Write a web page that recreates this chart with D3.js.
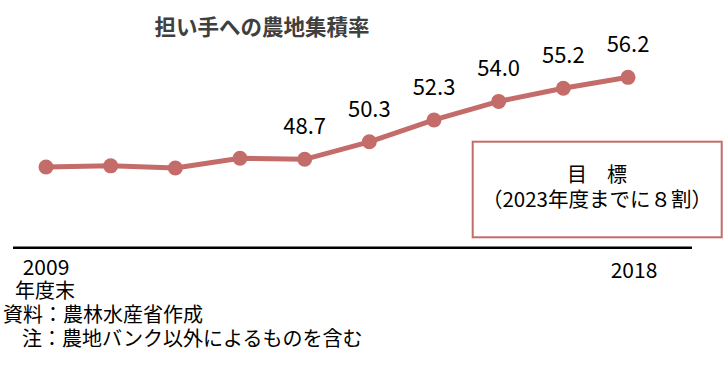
<!DOCTYPE html>
<html>
<head>
<meta charset="utf-8">
<script src="https://cdn.jsdelivr.net/npm/d3@7"></script>
<style>
  body { margin: 0; background: #fff; }
  svg { display: block; font-family: "Noto Sans CJK JP", sans-serif; }
</style>
</head>
<body>
<div class="board"></div>
<script>
// data
var years = [2009, 2010, 2011, 2012, 2013, 2014, 2015, 2016, 2017, 2018];
var rates = [48.0, 48.1, 47.9, 48.8, 48.7, 50.3, 52.3, 54.0, 55.2, 56.2];
var shownLabels = ["", "", "", "", "48.7", "50.3", "52.3", "54.0", "55.2", "56.2"];
var tickYears = [2009, 2018];

var lineColor = '#c46c69';

var svg = d3.select('.board').append('svg')
  .attr('width', 728)
  .attr('height', 370);

var x = d3.scalePoint()
  .domain(years)
  .range([46, 628]);

var y = d3.scaleLinear()
  .domain([40, 60])
  .range([254.4, 35.8]);

// title
svg.append('text')
  .attr('x', 262)
  .attr('y', 35)
  .attr('text-anchor', 'middle')
  .style('font-size', '21.5px')
  .style('font-weight', 'bold')
  .style('fill', '#3f3f3f')
  .text('担い手への農地集積率');

// baseline
svg.append('line')
  .attr('x1', 13).attr('x2', 692)
  .attr('y1', 247.7).attr('y2', 247.7)
  .style('stroke', '#000')
  .style('stroke-width', 2.5);

// target box
var box = svg.append('g');
box.append('rect')
  .attr('x', 472.7).attr('y', 141.7)
  .attr('width', 249).attr('height', 95.6)
  .style('fill', '#fff')
  .style('stroke', lineColor)
  .style('stroke-width', 2);
box.append('text')
  .attr('x', 597).attr('y', 182)
  .attr('text-anchor', 'middle')
  .style('font-size', '20px')
  .text('目　標');
box.append('text')
  .attr('x', 597).attr('y', 207)
  .attr('text-anchor', 'middle')
  .style('font-size', '20.5px')
  .text('（2023年度までに８割）');

// line
var line = d3.line()
  .x(function (d, i) { return x(years[i]); })
  .y(function (d) { return y(d); });

svg.append('path')
  .datum(rates)
  .attr('d', line)
  .style('fill', 'none')
  .style('stroke', lineColor)
  .style('stroke-width', 5);

svg.selectAll('circle.pt')
  .data(rates)
  .enter()
  .append('circle')
  .classed('pt', true)
  .attr('cx', function (d, i) { return x(years[i]); })
  .attr('cy', function (d) { return y(d); })
  .attr('r', 7.5)
  .style('fill', lineColor);

svg.selectAll('text.val')
  .data(rates)
  .enter()
  .append('text')
  .classed('val', true)
  .attr('x', function (d, i) { return x(years[i]); })
  .attr('y', function (d) { return y(d) - 25; })
  .attr('text-anchor', 'middle')
  .style('font-size', '22px')
  .style('fill', '#000')
  .text(function (d, i) { return shownLabels[i]; });

// year ticks
svg.selectAll('text.tick')
  .data(tickYears)
  .enter()
  .append('text')
  .classed('tick', true)
  .attr('x', function (d) { return x(d) + (d === 2018 ? 6 : 0); })
  .attr('y', function (d) { return d === 2018 ? 278 : 274.5; })
  .attr('text-anchor', 'middle')
  .style('font-size', '21px')
  .text(function (d) { return d; });

svg.append('text')
  .attr('x', 15).attr('y', 298)
  .style('font-size', '20px')
  .text('年度末');

// notes
svg.append('text')
  .attr('x', 3).attr('y', 322)
  .style('font-size', '20px')
  .text('資料：農林水産省作成');
svg.append('text')
  .attr('x', 22).attr('y', 346)
  .style('font-size', '20px')
  .text('注：農地バンク以外によるものを含む');
</script>
</body>
</html>
